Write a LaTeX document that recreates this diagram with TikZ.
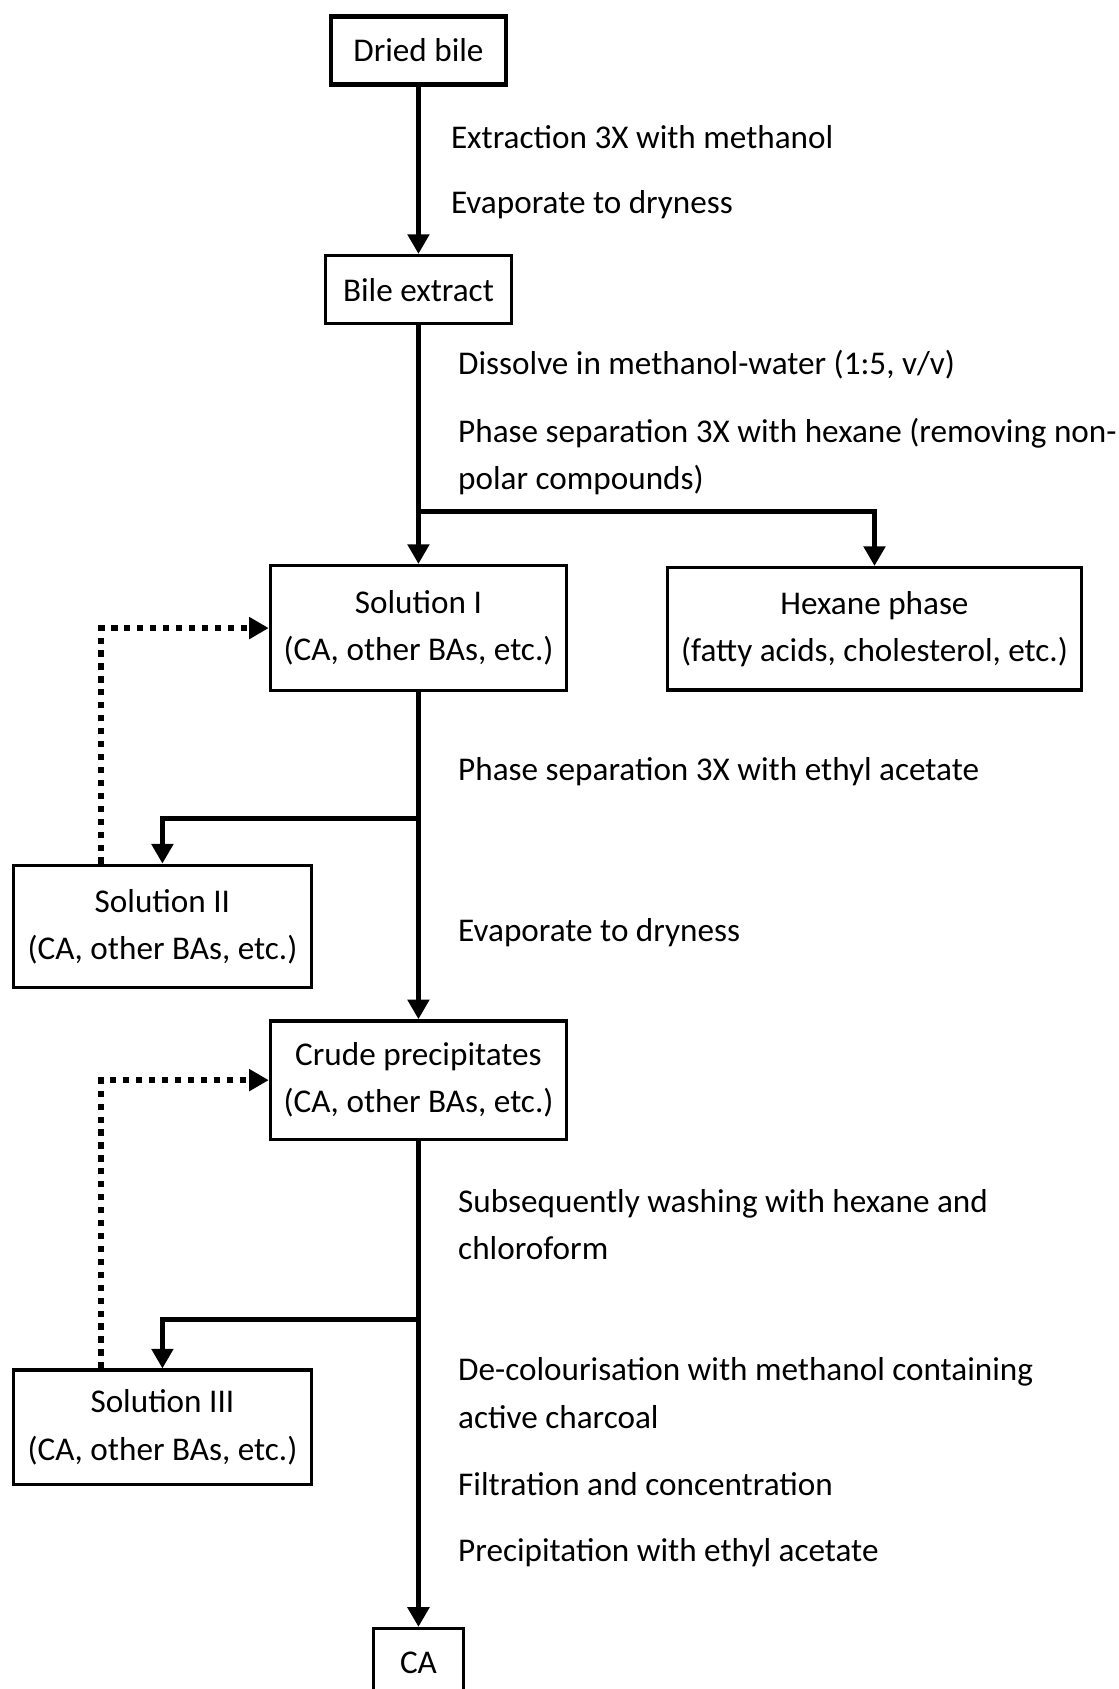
\documentclass[tikz,border=0pt]{standalone}
\usepackage{fontspec}
\setmainfont{Carlito}
\usepackage{tikz}
\usetikzlibrary{arrows.meta,positioning,calc}
\tikzstyle{boite}=[draw, line width=1.2pt, align=center, inner sep=0pt]
\tikzstyle{etape}=[anchor=west, align=left, inner sep=0pt]
\tikzstyle{fleche}=[line width=1.8pt, -{Triangle[length=7pt,width=7.5pt]}]
\tikzstyle{retour}=[line width=2pt, dash pattern=on 2.2pt off 2.4pt, -{Triangle[length=7pt,width=7.5pt]}]

\begin{document}
\begin{tikzpicture}[font=\fontsize{11.8}{16.8}\selectfont]

\useasboundingbox (0,0) rectangle (13.975,-21.11);

% boites
\node[boite, line width=1.6pt, minimum width=2.19cm, minimum height=0.85cm] (dried) at (5.23,-0.63) {Dried bile};
\node[boite, minimum width=2.33cm, minimum height=0.85cm] (extract) at (5.23,-3.62) {Bile extract};
\node[boite, minimum width=3.70cm, minimum height=1.56cm] (sol1) at (5.23,-7.85) {Solution I\\(CA, other BAs, etc.)};
\node[boite, minimum width=5.18cm, minimum height=1.53cm] (hexane) at (10.93,-7.86) {Hexane phase\\(fatty acids, cholesterol, etc.)};
\node[boite, minimum width=3.73cm, minimum height=1.53cm] (sol2) at (2.03,-11.58) {Solution II\\(CA, other BAs, etc.)};
\node[boite, minimum width=3.70cm, minimum height=1.48cm] (crude) at (5.23,-13.50) {Crude precipitates\\(CA, other BAs, etc.)};
\node[boite, minimum width=3.73cm, minimum height=1.43cm] (sol3) at (2.03,-17.84) {Solution III\\(CA, other BAs, etc.)};
\node[boite, minimum width=1.12cm, minimum height=0.85cm] (ca) at (5.23,-20.78) {CA};

% branchements
\coordinate (b1) at (5.23,-6.395);
\coordinate (b2) at (5.23,-10.23);
\coordinate (b3) at (5.23,-16.49);

% fleches principales
\draw[fleche] (dried) -- (extract);
\draw[fleche] (extract) -- (sol1);
\draw[fleche] (sol1) -- (crude);
\draw[fleche] (crude) -- (ca);

% derivations
\draw[fleche] (b1) -| (hexane);
\draw[fleche] (b2) -| (sol2);
\draw[fleche] (b3) -| (sol3);

% recyclage
\draw[retour] ($(sol2.north west)+(1.12,0)$) |- (sol1);
\draw[retour] ($(sol3.north west)+(1.12,0)$) |- (crude);

% etapes
\node[etape] (etape1) at (5.63,-1.71) {Extraction 3X with methanol};
\node[etape] (etape2) at (5.63,-2.56) {Evaporate to dryness};
\node[etape] (etape3) at (5.72,-4.56) {Dissolve in methanol-water (1:5, v/v)};
\node[etape] (etape4) at (5.72,-5.71) {Phase separation 3X with hexane (removing non-\\polar compounds)};
\node[etape] (etape5) at (5.72,-9.65) {Phase separation 3X with ethyl acetate};
\node[etape] (etape6) at (5.72,-11.66) {Evaporate to dryness};
\node[etape] (etape7) at (5.72,-15.31) {Subsequently washing with hexane and\\chloroform};
\node[etape] (etape8) at (5.72,-17.41) {De-colourisation with methanol containing\\active charcoal};
\node[etape] (etape9) at (5.72,-18.55) {Filtration and concentration};
\node[etape] (etape10) at (5.72,-19.40) {Precipitation with ethyl acetate};

\end{tikzpicture}
\end{document}
